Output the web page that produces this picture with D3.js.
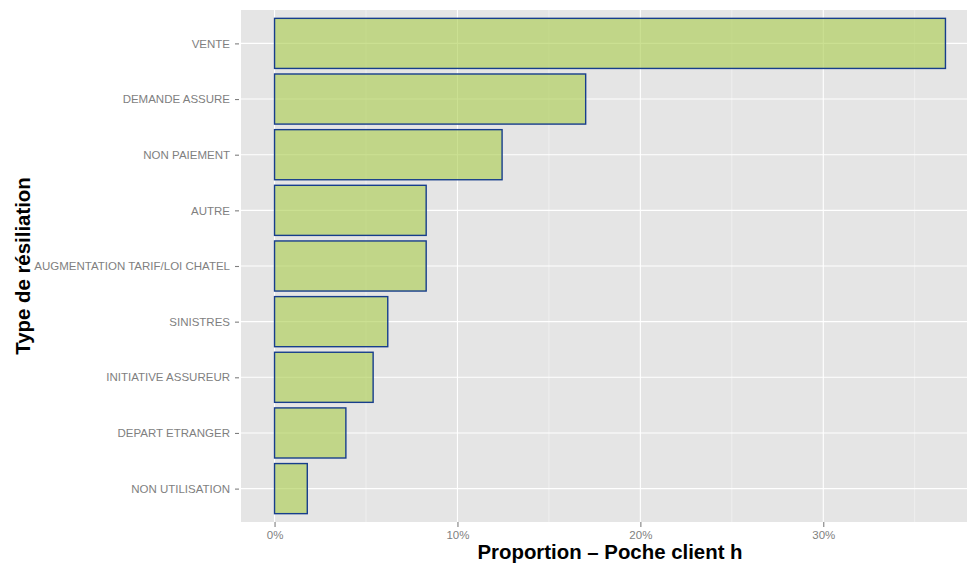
<!DOCTYPE html>
<html>
<head>
<meta charset="utf-8">
<script src="https://cdn.jsdelivr.net/npm/d3@7"></script>
<style>
  body { margin: 0; background: #fff; }
  svg { display: block; font-family: "Liberation Sans", Arial, sans-serif; }
</style>
</head>
<body>
<svg id="chart" width="967" height="563"></svg>
<script>
// Termination types, top to bottom
const categories = [
  "VENTE",
  "DEMANDE ASSURE",
  "NON PAIEMENT",
  "AUTRE",
  "AUGMENTATION TARIF/LOI CHATEL",
  "SINISTRES",
  "INITIATIVE ASSUREUR",
  "DEPART ETRANGER",
  "NON UTILISATION"
];
// Share of contracts for each type
const proportions = [0.3668, 0.1701, 0.1244, 0.0829, 0.0829, 0.0619, 0.0539, 0.0390, 0.0179];
const majorTicks = [0, 0.1, 0.2, 0.3];
const minorTicks = [0.05, 0.15, 0.25, 0.35];
const xTitle = "Proportion \u2013 Poche client h";
const yTitle = "Type de résiliation";

const svg = d3.select("#chart");
const panel = { left: 241, top: 10, right: 979, bottom: 522 };

const maxV = d3.max(proportions);
const pad = maxV * 0.05;
const x = d3.scaleLinear().domain([-pad, maxV + pad]).range([panel.left, panel.right]);

// Discrete axis with 0.6 unit padding on each end, bars 0.9 wide
const n = categories.length;
const unit = (panel.bottom - panel.top) / (n - 1 + 1.2);
const y = d3.scalePoint().domain(categories)
  .range([panel.top + 0.6 * unit, panel.bottom - 0.6 * unit]);
const barH = 0.9 * unit;

// Panel background
svg.append("rect")
  .attr("x", panel.left).attr("y", panel.top)
  .attr("width", panel.right - panel.left).attr("height", panel.bottom - panel.top)
  .attr("fill", "#e5e5e5");

// Grid lines
const grid = svg.append("g");
grid.selectAll(".minor").data(minorTicks).join("line")
  .attr("x1", d => x(d)).attr("x2", d => x(d))
  .attr("y1", panel.top).attr("y2", panel.bottom)
  .attr("stroke", "#f2f2f2").attr("stroke-width", 0.8);
grid.selectAll(".major").data(majorTicks).join("line")
  .attr("x1", d => x(d)).attr("x2", d => x(d))
  .attr("y1", panel.top).attr("y2", panel.bottom)
  .attr("stroke", "#ffffff").attr("stroke-width", 1.1);
grid.selectAll(".hline").data(categories).join("line")
  .attr("x1", panel.left).attr("x2", panel.right)
  .attr("y1", d => y(d)).attr("y2", d => y(d))
  .attr("stroke", "#ffffff").attr("stroke-width", 1.1);

// Bars
svg.append("g").selectAll("rect").data(categories).join("rect")
  .attr("x", x(0))
  .attr("y", d => y(d) - barH / 2)
  .attr("width", (d, i) => x(proportions[i]) - x(0))
  .attr("height", barH)
  .attr("fill", "#a8cc4a")
  .attr("fill-opacity", 0.6)
  .attr("stroke", "#173e8c")
  .attr("stroke-width", 1.4);

// Y axis
const yAxis = svg.append("g")
  .attr("transform", `translate(${panel.left},0)`)
  .call(d3.axisLeft(y).tickSize(6).tickPadding(5));
yAxis.select(".domain").remove();
yAxis.selectAll(".tick line").attr("stroke", "#7f7f7f").attr("stroke-width", 1.1)
  .attr("x1", -2);
yAxis.selectAll(".tick text")
  .attr("fill", "#7f7f7f").attr("font-size", "11.5px")
  .attr("font-family", "Liberation Sans, Arial, sans-serif");

// X axis
const xAxis = svg.append("g")
  .attr("transform", `translate(0,${panel.bottom})`)
  .call(d3.axisBottom(x).tickValues(majorTicks).tickFormat(d3.format(".0%")).tickSize(5).tickPadding(4));
xAxis.select(".domain").remove();
xAxis.selectAll(".tick line").attr("stroke", "#7f7f7f").attr("stroke-width", 1.1);
xAxis.selectAll(".tick text")
  .attr("fill", "#7f7f7f").attr("font-size", "11.5px")
  .attr("font-family", "Liberation Sans, Arial, sans-serif");

// Axis titles
svg.append("text")
  .attr("x", (panel.left + panel.right) / 2).attr("y", 559)
  .attr("text-anchor", "middle")
  .attr("font-size", "20.4px").attr("font-weight", "bold").attr("fill", "#000")
  .text(xTitle);
svg.append("text")
  .attr("transform", `translate(30,${(panel.top + panel.bottom) / 2}) rotate(-90)`)
  .attr("text-anchor", "middle")
  .attr("font-size", "20.4px").attr("font-weight", "bold").attr("fill", "#000")
  .text(yTitle);
</script>
</body>
</html>
